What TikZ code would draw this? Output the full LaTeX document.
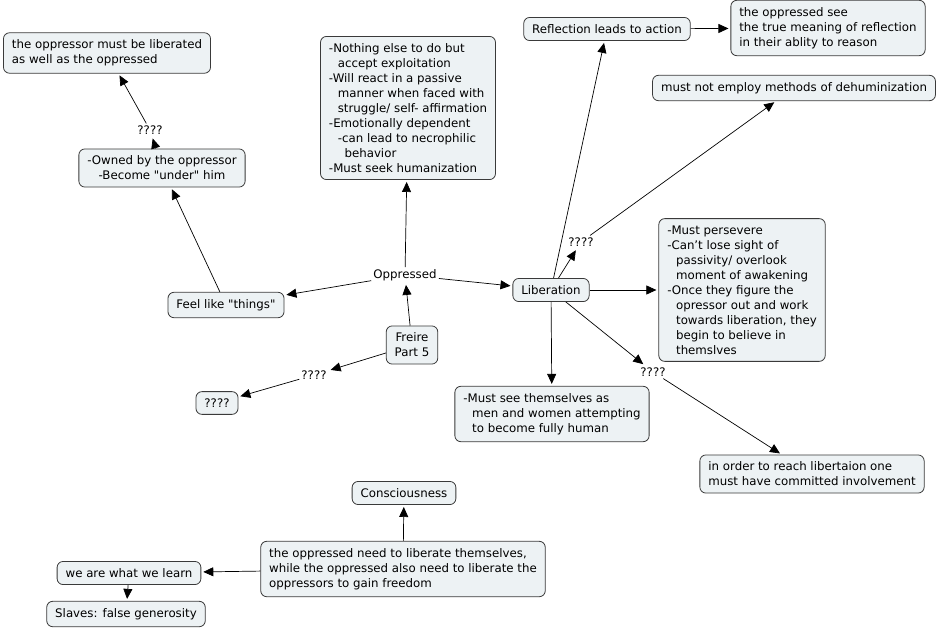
\documentclass[tikz,border=0pt]{standalone}
\usepackage{fontspec}
\setmainfont{DejaVu Sans}
\usetikzlibrary{arrows.meta}
\definecolor{boxfill}{HTML}{EDF2F4}
\definecolor{boxline}{HTML}{3A3A3A}
\tikzset{
  concept/.style={draw=boxline, fill=boxfill, rounded corners=6pt, inner xsep=8.5pt, inner ysep=7pt,
    font=\fontsize{11.8}{15}\selectfont, line width=0.8pt},
  linkword/.style={inner sep=2pt, font=\fontsize{11.8}{15}\selectfont},
  link/.style={-{Triangle[length=10pt,width=9pt]}, line width=0.7pt, shorten >=2pt}
}
\newcommand{\ind}{\hspace*{0.75em}}
\newcommand{\q}{\textquotedbl}
\begin{document}
\begin{tikzpicture}[x=1pt,y=-1pt]
  \useasboundingbox (0,0) rectangle (944,631);
  % concepts
  \node[concept, align=left] (liboppr) at (107,53) {the oppressor must be liberated\\as well as the oppressed};
  \node[concept, align=center] (owned) at (162,168) {-Owned by the oppressor\\-Become \q under\q\ him};
  \node[concept, align=left] (opprbox) at (408,108) {-Nothing else to do but\\\ind accept exploitation\\-Will react in a passive\\\ind manner when faced with\\\ind struggle/ self- affirmation\\-Emotionally dependent\\\ind -can lead to necrophilic\\\ind\hspace*{0.25em} behavior\\-Must seek humanization};
  \node[concept] (things) at (226,305) {Feel like \q things\q};
  \node[concept, align=center] (freire) at (412,345) {Freire\\Part 5};
  \node[concept] (unknown) at (217,403) {????};
  \node[concept] (lib) at (551,290) {Liberation};
  \node[concept] (refl) at (607,29) {Reflection leads to action};
  \node[concept, align=left] (see) at (828,28) {the oppressed see\\the true meaning of reflection\\in their ablity to reason};
  \node[concept] (dehum) at (794,88) {must not employ methods of dehuminization};
  \node[concept, align=left] (persevere) at (742,290) {-Must persevere\\-Can't lose sight of\\\ind passivity/ overlook\\\ind moment of awakening\\-Once they figure the\\\ind opressor out and work\\\ind towards liberation, they\\\ind begin to believe in\\\ind themslves};
  \node[concept, align=left] (human) at (552,414) {-Must see themselves as\\\ind men and women attempting\\\ind to become fully human};
  \node[concept, align=left] (involve) at (812,474) {in order to reach libertaion one\\must have committed involvement};
  \node[concept] (conscious) at (404,493) {Consciousness};
  \node[concept, align=left] (need) at (403,569) {the oppressed need to liberate themselves,\\while the oppressed also need to liberate the\\oppressors to gain freedom};
  \node[concept] (learn) at (129,573) {we are what we learn};
  \node[concept] (slaves) at (126,614) {Slaves: false generosity};
  % linking words
  \node[linkword] (qa) at (150,130) {????};
  \node[linkword] (oppr) at (405,275) {Oppressed};
  \node[linkword] (qb) at (314,375) {????};
  \node[linkword] (qc) at (581,242) {????};
  \node[linkword] (qd) at (653,372) {????};
  % connectors
  \draw[link] (owned) -- (qa);
  \draw[link] (qa) -- (liboppr);
  \draw[link] (things) -- (owned);
  \draw[link] (oppr) -- (things);
  \draw[link] (oppr) -- (opprbox);
  \draw[link] (freire) -- (oppr);
  \draw[link] (oppr) -- (lib);
  \draw[link] (freire) -- (qb);
  \draw[link] (qb) -- (unknown);
  \draw[link] (lib) -- (qc);
  \draw[link] (qc) -- (dehum);
  \draw[link] (lib) -- (refl);
  \draw[link] (refl) -- (see);
  \draw[link] (lib) -- (persevere);
  \draw[link] (lib) -- (qd);
  \draw[link] (qd) -- (involve);
  \draw[link] (lib) -- (human);
  \draw[link] (need) -- (conscious);
  \draw[link] (need) -- (learn);
  \draw[link] (learn) -- (slaves);
\end{tikzpicture}
\end{document}
